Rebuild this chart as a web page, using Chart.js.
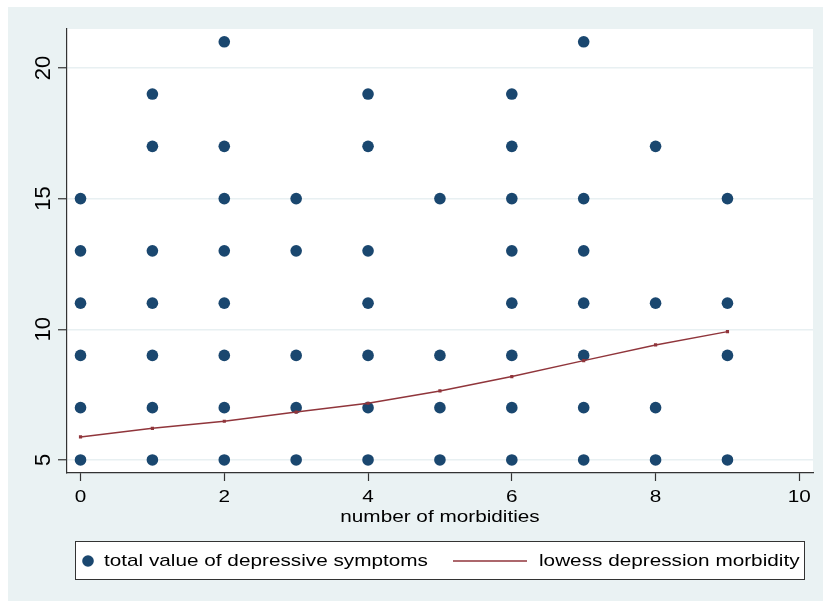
<!DOCTYPE html>
<html>
<head>
<meta charset="utf-8">
<script src="https://cdn.jsdelivr.net/npm/chart.js@4"></script>
<style>
  html, body { margin: 0; padding: 0; background: #fff; }
  #wrap { width: 823px; height: 601px; }
</style>
</head>
<body>
<div id="wrap"><canvas id="myChart" width="823" height="601"></canvas></div>
<script>
// valores
const morbidades = [0, 1, 2, 3, 4, 5, 6, 7, 8, 9];
const sintomasPorMorbidade = [
  [5, 7, 9, 11, 13, 15],          // 0
  [5, 7, 9, 11, 13, 17, 19],      // 1
  [5, 7, 9, 11, 13, 15, 17, 21],  // 2
  [5, 7, 9, 13, 15],              // 3
  [5, 7, 9, 11, 13, 17, 19],      // 4
  [5, 7, 9, 15],                  // 5
  [5, 7, 9, 11, 13, 15, 17, 19],  // 6
  [5, 7, 9, 11, 13, 15, 21],      // 7
  [5, 7, 11, 17],                 // 8
  [5, 9, 11, 15]                  // 9
];
const lowessY = [5.88, 6.21, 6.48, 6.83, 7.17, 7.64, 8.19, 8.80, 9.40, 9.91];
const xTicks = [0, 2, 4, 6, 8, 10];
const yTicks = [5, 10, 15, 20];
const labelPontos = 'total value of depressive symptoms';
const labelLinha = 'lowess depression morbidity';

const pontos = [];
morbidades.forEach((m, i) => {
  sintomasPorMorbidade[i].forEach(v => pontos.push({ x: m, y: v }));
});
const linha = morbidades.map((m, i) => ({ x: m, y: lowessY[i] }));

const azul = '#1A476F';
const vinho = '#90353B';
const familia = '"Liberation Sans", Arial, sans-serif';
const fonte = { family: familia, size: 17 };

// texto horizontal um pouco esticado, como no Stata
const esticar = {
  id: 'esticar',
  beforeInit(chart) {
    const c = chart.ctx;
    const original = c.fillText.bind(c);
    c.fillText = function (txt, x, y, maxW) {
      const t = c.getTransform();
      const sx = Math.abs(t.b) > 0.01 ? 1 : 1.22; // rotacionado: sem esticar
      c.save();
      c.translate(x, y);
      c.scale(sx, 1);
      if (maxW !== undefined) original(txt, 0, 0, maxW / sx); else original(txt, 0, 0);
      c.restore();
    };
  }
};

// fundo estilo Stata
const fundo = {
  id: 'fundo',
  beforeDraw(chart) {
    const { ctx, chartArea: a } = chart;
    ctx.save();
    ctx.fillStyle = '#ffffff';
    ctx.fillRect(0, 0, chart.width, chart.height);
    ctx.fillStyle = '#EAF2F3';
    ctx.fillRect(8, 7, chart.width - 8, chart.height - 7);
    ctx.fillStyle = '#ffffff';
    ctx.fillRect(a.left, a.top, a.right - a.left, a.bottom - a.top);
    ctx.restore();
  }
};

// legenda com caixa, desenhada à mão
const legenda = {
  id: 'legenda',
  afterDraw(chart) {
    const ctx = chart.ctx;
    ctx.save();
    ctx.fillStyle = '#ffffff';
    ctx.fillRect(75, 541, 729, 38);
    ctx.strokeStyle = '#333333';
    ctx.lineWidth = 1;
    ctx.strokeRect(75.5, 541.5, 729, 38);
    ctx.beginPath();
    ctx.arc(88, 561, 5.8, 0, Math.PI * 2);
    ctx.fillStyle = azul;
    ctx.fill();
    ctx.beginPath();
    ctx.moveTo(453, 561);
    ctx.lineTo(527, 561);
    ctx.strokeStyle = vinho;
    ctx.lineWidth = 1.5;
    ctx.stroke();
    ctx.font = '17px ' + familia;
    ctx.fillStyle = '#000000';
    ctx.textBaseline = 'middle';
    ctx.textAlign = 'left';
    ctx.fillText(chart.data.datasets[0].label, 104, 561);
    ctx.fillText(chart.data.datasets[1].label, 539, 561);
    ctx.restore();
  }
};

const ctx = document.getElementById('myChart').getContext('2d');
new Chart(ctx, {
  type: 'scatter',
  data: {
    datasets: [
      {
        label: labelPontos,
        data: pontos,
        backgroundColor: azul,
        borderWidth: 0,
        pointRadius: 5.8,
        pointHoverRadius: 5.8,
        order: 2
      },
      {
        type: 'line',
        label: labelLinha,
        data: linha,
        borderColor: vinho,
        backgroundColor: vinho,
        borderWidth: 1.5,
        pointRadius: 1.2,
        pointStyle: 'rect',
        tension: 0,
        fill: false,
        order: 1
      }
    ]
  },
  plugins: [esticar, fundo, legenda],
  options: {
    responsive: false,
    animation: false,
    events: [],
    layout: { padding: { left: 0, top: 29, right: 10, bottom: 73 } },
    plugins: { legend: { display: false }, tooltip: { enabled: false } },
    scales: {
      x: {
        type: 'linear',
        min: -0.188,
        max: 10.19,
        afterBuildTicks: s => { s.ticks = xTicks.map(v => ({ value: v })); },
        afterFit: s => { s.height = 55; },
        grid: { drawOnChartArea: false, tickLength: 8, tickColor: '#333333', tickWidth: 1.2 },
        border: { color: '#333333', width: 1.2 },
        ticks: { color: '#000', font: fonte, padding: 6, maxRotation: 0 },
        title: { display: true, text: 'number of morbidities', color: '#000', font: fonte, padding: 0 }
      },
      y: {
        type: 'linear',
        min: 4.5,
        max: 21.49,
        afterBuildTicks: s => { s.ticks = yTicks.map(v => ({ value: v })); },
        afterFit: s => { s.width = 67; },
        grid: { color: '#E8F0F2', lineWidth: 1.5, tickLength: 9, tickColor: '#333333', tickWidth: 1.2 },
        border: { color: '#333333', width: 1.2 },
        ticks: { color: '#000', font: { family: familia, size: 22 }, padding: 2, minRotation: 90, maxRotation: 90, crossAlign: 'center' }
      }
    }
  }
});
</script>
</body>
</html>
